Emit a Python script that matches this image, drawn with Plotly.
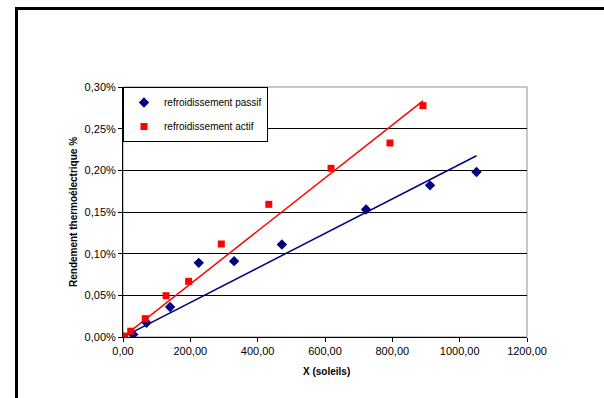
import numpy as np
import plotly.graph_objects as go

# Mesures : concentration (soleils) et rendement thermoélectrique (%)
x_passif = [0, 30, 70, 140, 225, 330, 472, 722, 912, 1050]
y_passif = [0.000, 0.003, 0.017, 0.036, 0.089, 0.091, 0.111, 0.153, 0.182, 0.198]

x_actif = [4, 23, 66, 128, 195, 292, 433, 618, 793, 891]
y_actif = [0.001, 0.007, 0.022, 0.0496, 0.0668, 0.1116, 0.1592, 0.2024, 0.2328, 0.2776]

x_ticks = [0, 200, 400, 600, 800, 1000, 1200]
x_ticktext = ["0,00", "200,00", "400,00", "600,00", "800,00", "1000,00", "1200,00"]
y_ticks = [0.00, 0.05, 0.10, 0.15, 0.20, 0.25, 0.30]
y_ticktext = ["0,00%", "0,05%", "0,10%", "0,15%", "0,20%", "0,25%", "0,30%"]

NAVY = "#000080"
RED = "#FF0000"
FONT = "Liberation Sans, Arial, sans-serif"


def trend_through_origin(xs, ys):
    """Linear least-squares fit forced through the origin, drawn from 0 to max x."""
    xs = np.asarray(xs, float)
    ys = np.asarray(ys, float)
    slope = float(np.sum(xs * ys) / np.sum(xs * xs))
    xl = np.array([0.0, xs.max()])
    return xl, slope * xl


fig = go.Figure()

tx, ty = trend_through_origin(x_passif, y_passif)
fig.add_trace(go.Scatter(x=tx, y=ty, mode="lines", line=dict(color=NAVY, width=1.5),
                         showlegend=False, hoverinfo="skip"))
tx, ty = trend_through_origin(x_actif, y_actif)
fig.add_trace(go.Scatter(x=tx, y=ty, mode="lines", line=dict(color=RED, width=1.5),
                         showlegend=False, hoverinfo="skip"))

fig.add_trace(go.Scatter(x=x_passif, y=y_passif, mode="markers", name="refroidissement passif",
                         legendgroup="passif",
                         marker=dict(symbol="diamond", size=8, color=NAVY)))
fig.add_trace(go.Scatter(x=x_actif, y=y_actif, mode="markers", name="refroidissement actif",
                         legendgroup="actif",
                         marker=dict(symbol="square", size=7, color=RED)))

L, R, T, B = 123, 77, 87, 61
W, H = 604, 398
pw, ph = W - L - R, H - T - B


def px_x(p):
    return (p - L) / pw


def px_y(p):
    return (H - B - p) / ph


fig.update_layout(
    width=W, height=H,
    margin=dict(l=L, r=R, t=T, b=B),
    paper_bgcolor="white", plot_bgcolor="white",
    font=dict(family=FONT, size=11, color="black"),
    showlegend=True,
    legend=dict(x=0, y=1, xanchor="left", yanchor="top",
                bordercolor="black", borderwidth=1, bgcolor="white",
                font=dict(size=10), itemwidth=30, tracegroupgap=5,
                traceorder="grouped"),
    xaxis=dict(range=[0, 1200], tickvals=x_ticks, ticktext=x_ticktext,
               showgrid=False, zeroline=False, showline=True, linecolor="black",
               linewidth=1, ticks="outside", ticklen=4, tickcolor="black",
               tickfont=dict(size=11)),
    yaxis=dict(range=[0, 0.30], tickvals=y_ticks, ticktext=y_ticktext,
               showgrid=True, gridcolor="black", gridwidth=1, zeroline=False,
               showline=True, linecolor="black", linewidth=1, ticks="outside",
               ticklen=4, tickcolor="black", tickfont=dict(size=11)),
    shapes=[
        # grey plot-area border (top and right)
        dict(type="rect", xref="paper", yref="paper", x0=0, y0=0, x1=1, y1=1,
             line=dict(color="#909090", width=1), layer="below"),
        # outer chart frame
        dict(type="rect", xref="paper", yref="paper",
             x0=px_x(16.5), x1=px_x(640), y0=px_y(430), y1=px_y(8.5),
             line=dict(color="black", width=3)),
    ],
    annotations=[
        dict(text="<b>X (soleils)</b>", xref="paper", yref="paper",
             x=px_x(326), y=px_y(371), showarrow=False, font=dict(size=10),
             xanchor="center", yanchor="middle"),
        dict(text="<b>Rendement thermoélectrique %</b>", xref="paper", yref="paper",
             x=px_x(73), y=px_y(212), showarrow=False, font=dict(size=10),
             textangle=-90, xanchor="center", yanchor="middle"),
    ],
)

fig.write_html("out.html")
